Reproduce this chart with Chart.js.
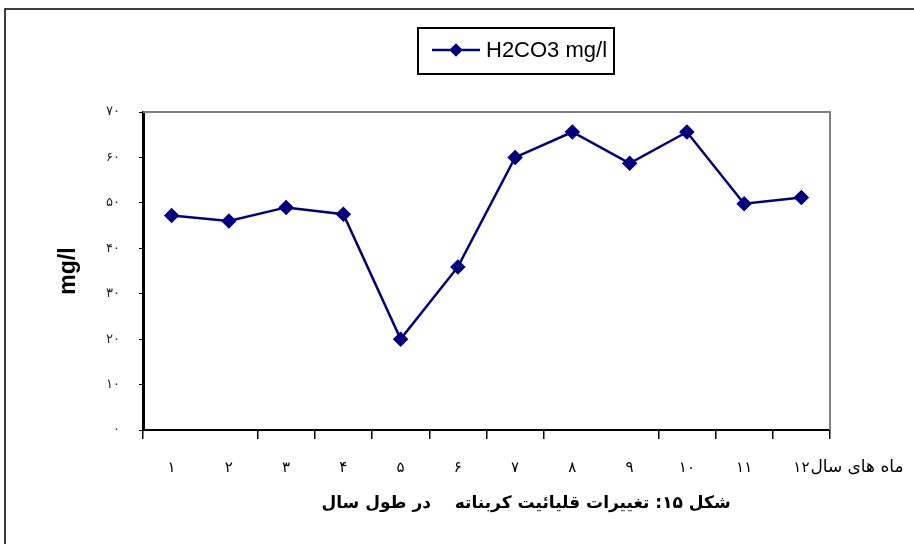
<!DOCTYPE html>
<html>
<head>
<meta charset="utf-8">
<script src="https://cdn.jsdelivr.net/npm/chart.js@4.4.1/dist/chart.umd.min.js"></script>
<style>
  body { margin: 0; background: #fff; }
  canvas { display: block; }
</style>
</head>
<body>
<canvas id="lineChart" width="914" height="544"></canvas>
<script>
const months = ['۱', '۲', '۳', '۴', '۵', '۶', '۷', '۸', '۹', '۱۰', '۱۱', '۱۲'];
const h2co3 = [47.2, 46.0, 49.0, 47.5, 20.0, 35.9, 60.0, 65.6, 58.7, 65.6, 49.8, 51.2];
const yTickLabels = ['۰', '۱۰', '۲۰', '۳۰', '۴۰', '۵۰', '۶۰', '۷۰'];
const seriesLabel = 'H2CO3 mg/l';
const yTitle = 'mg/l';
const xTail = 'ماه های سال';
const caption = 'شکل ۱۵: تغییرات قلیائیت کربناته    در طول سال';

const navy = '#000080';

// frame, plot border, legend box and caption
const decor = {
  id: 'decor',
  beforeDraw(chart) {
    const ctx = chart.ctx;
    ctx.save();
    ctx.fillStyle = '#fff';
    ctx.fillRect(0, 0, chart.width, chart.height);
    ctx.restore();
  },
  beforeDatasetsDraw(chart) {
    const { ctx, chartArea: a } = chart;
    ctx.save();
    ctx.strokeStyle = '#808080';
    ctx.lineWidth = 2;
    ctx.beginPath();
    ctx.moveTo(a.left, a.top);
    ctx.lineTo(a.right, a.top);
    ctx.lineTo(a.right, a.bottom);
    ctx.stroke();
    ctx.restore();
  },
  afterDraw(chart) {
    const ctx = chart.ctx;
    ctx.save();

    // outer frame
    ctx.strokeStyle = '#000';
    ctx.lineWidth = 1.5;
    ctx.beginPath();
    ctx.moveTo(5, chart.height);
    ctx.lineTo(5, 9);
    ctx.lineTo(chart.width, 9);
    ctx.stroke();

    // legend
    ctx.lineWidth = 2;
    ctx.strokeRect(418, 28, 196, 46);
    ctx.strokeStyle = navy;
    ctx.lineWidth = 2.5;
    ctx.beginPath();
    ctx.moveTo(432, 50);
    ctx.lineTo(480, 50);
    ctx.stroke();
    ctx.fillStyle = navy;
    Chart.helpers.drawPoint(ctx, { pointStyle: 'rectRot', radius: 5, rotation: 0, borderWidth: 1 }, 456, 50);
    ctx.fillStyle = '#000';
    ctx.font = '22px "Liberation Sans", Arial, sans-serif';
    ctx.textAlign = 'left';
    ctx.textBaseline = 'middle';
    ctx.fillText(chart.data.datasets[0].label, 486, 51);

    // tail of the x labels
    const xs = chart.scales.x;
    ctx.direction = 'rtl';
    ctx.font = '17px "DejaVu Sans", sans-serif';
    ctx.textAlign = 'left';
    ctx.fillText(xTail, xs.getPixelForTick(months.length - 1) + 9, 468);

    // caption
    ctx.font = 'bold 17px "DejaVu Sans", sans-serif';
    ctx.textAlign = 'center';
    ctx.fillText(caption, 526, 504);
    ctx.restore();
  }
};

const renderLineChart = () => {
  const lineChart = document.getElementById('lineChart');

  new Chart(lineChart, {
    type: 'line',
    data: {
      labels: months,
      datasets: [{
        label: seriesLabel,
        data: h2co3,
        borderColor: navy,
        backgroundColor: navy,
        borderWidth: 2.5,
        pointStyle: 'rectRot',
        pointRadius: 6,
        pointBackgroundColor: navy,
        pointBorderColor: navy,
        tension: 0
      }]
    },
    options: {
      responsive: false,
      animation: false,
      devicePixelRatio: 1,
      layout: {
        padding: { left: 55, right: 84, top: 112, bottom: 0 }
      },
      plugins: {
        legend: { display: false },
        tooltip: { enabled: false }
      },
      scales: {
        x: {
          offset: true,
          afterFit: (scale) => { scale.height = 114; },
          border: { color: '#000', width: 2 },
          grid: {
            offset: true,
            drawOnChartArea: false,
            tickLength: 9,
            color: (c) => (c.index === 1 || c.index === 8) ? 'rgba(0,0,0,0)' : '#000',
            lineWidth: 1.5
          },
          ticks: {
            padding: 20,
            color: '#000',
            font: { family: '"DejaVu Sans", sans-serif', size: 15 },
            maxRotation: 0,
            autoSkip: false
          }
        },
        y: {
          min: 0,
          max: 70,
          afterFit: (scale) => { scale.width = 88; },
          border: { color: '#000', width: 3 },
          grid: {
            drawOnChartArea: false,
            tickLength: 4,
            color: '#000'
          },
          ticks: {
            stepSize: 10,
            padding: 19,
            color: '#222',
            font: { family: '"DejaVu Sans", sans-serif', size: 13 },
            callback: (value) => yTickLabels[value / 10]
          },
          title: {
            display: true,
            text: yTitle,
            color: '#000',
            padding: 0,
            font: { family: '"Liberation Sans", Arial, sans-serif', size: 23, weight: 'bold' }
          }
        }
      }
    },
    plugins: [decor]
  });
};

document.addEventListener('DOMContentLoaded', () => {
  renderLineChart();
});
</script>
</body>
</html>
